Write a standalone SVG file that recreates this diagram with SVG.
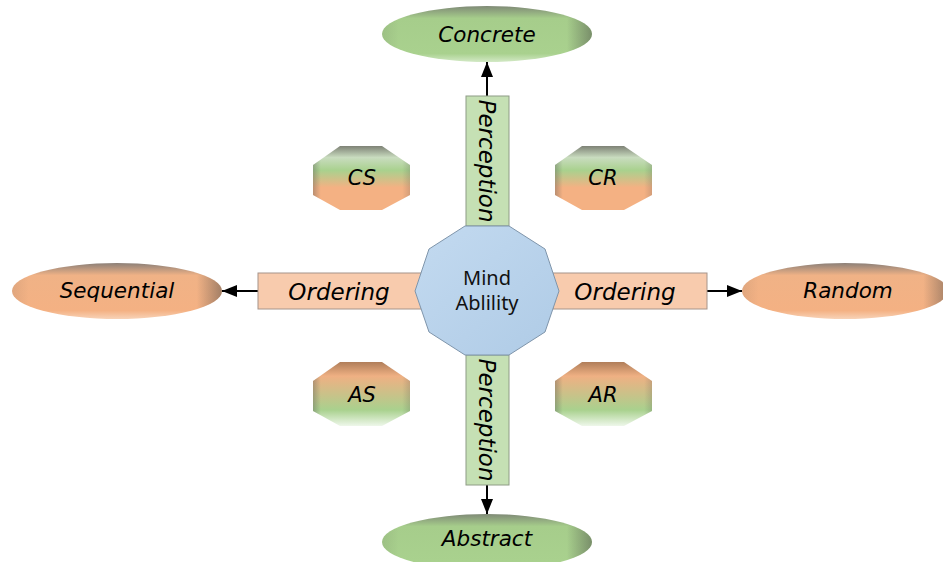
<svg xmlns="http://www.w3.org/2000/svg" width="943" height="562" viewBox="0 0 943 562">
  <style>
    .lbl { font-family: "DejaVu Sans", "Liberation Sans", sans-serif; font-style: italic; fill: #000; text-anchor: middle; }
    .big { font-size: 21.5px; }
    .bar { font-size: 23px; }
    .oct { font-size: 21px; }
    .hub { font-family: "Noto Sans", "Liberation Sans", sans-serif; font-size: 20px; fill: #111; text-anchor: middle; }
    .link { stroke: #000; stroke-width: 2; fill: none; marker-end: url(#head); }
    .pbox { fill: #c5e0b4; stroke: #8e9c86; stroke-width: 1; }
    .obox { fill: #f8cbad; stroke: #a6948a; stroke-width: 1; }
  </style>
  <defs>
    <marker id="head" viewBox="0 0 15 12" refX="15" refY="6" markerWidth="15" markerHeight="12" markerUnits="userSpaceOnUse" orient="auto">
      <path d="M0,0 L15,6 L0,12 z" fill="#000"/>
    </marker>
    <!-- ellipse bodies -->
    <linearGradient id="gGreen" x1="0" y1="0" x2="0" y2="1">
      <stop offset="0" stop-color="#7f8a76"/>
      <stop offset="0.22" stop-color="#a6cd8b"/>
      <stop offset="0.85" stop-color="#a9d18e"/>
      <stop offset="1" stop-color="#d3e9c6"/>
    </linearGradient>
    <linearGradient id="gOrange" x1="0" y1="0" x2="0" y2="1">
      <stop offset="0" stop-color="#8c8078"/>
      <stop offset="0.22" stop-color="#f0b286"/>
      <stop offset="0.85" stop-color="#f4b183"/>
      <stop offset="1" stop-color="#f8d3b8"/>
    </linearGradient>
    <linearGradient id="gEdge" x1="0" y1="0" x2="1" y2="0">
      <stop offset="0" stop-color="#404040" stop-opacity="0.1"/>
      <stop offset="0.08" stop-color="#404040" stop-opacity="0"/>
      <stop offset="0.88" stop-color="#404040" stop-opacity="0"/>
      <stop offset="1" stop-color="#404040" stop-opacity="0.45"/>
    </linearGradient>
    <!-- octagon bodies -->
    <linearGradient id="gTop" x1="0" y1="0" x2="0" y2="1">
      <stop offset="0" stop-color="#7e8276"/>
      <stop offset="0.18" stop-color="#c9dcbf"/>
      <stop offset="0.38" stop-color="#a9d18e"/>
      <stop offset="0.65" stop-color="#f4b183"/>
      <stop offset="1" stop-color="#f4b183"/>
    </linearGradient>
    <linearGradient id="gBot" x1="0" y1="0" x2="0" y2="1">
      <stop offset="0" stop-color="#b07e5a"/>
      <stop offset="0.22" stop-color="#efb083"/>
      <stop offset="0.75" stop-color="#a9d18e"/>
      <stop offset="1" stop-color="#eef7ea"/>
    </linearGradient>
    <linearGradient id="gSide" x1="0" y1="0" x2="1" y2="0">
      <stop offset="0" stop-color="#505050" stop-opacity="0.35"/>
      <stop offset="0.08" stop-color="#505050" stop-opacity="0"/>
      <stop offset="0.92" stop-color="#505050" stop-opacity="0"/>
      <stop offset="1" stop-color="#505050" stop-opacity="0.2"/>
    </linearGradient>
    <linearGradient id="gHub" x1="0" y1="0" x2="1" y2="1">
      <stop offset="0" stop-color="#c3daf0"/>
      <stop offset="1" stop-color="#afcbe6"/>
    </linearGradient>
    <polygon id="octShape" points="27,0 69,0 97,19 97,49 69,64 27,64 0,49 0,19"/>
  </defs>

  <!-- connectors -->
  <g id="connectors">
    <line class="link" x1="487" y1="96" x2="487" y2="62"/>
    <line class="link" x1="487" y1="485" x2="487" y2="514"/>
    <line class="link" x1="258" y1="291" x2="222" y2="291"/>
    <line class="link" x1="707" y1="291" x2="742" y2="291"/>
  </g>

  <!-- axis bars -->
  <g id="bar-perception-top">
    <rect class="pbox" x="466" y="96" width="43" height="130"/>
    <text class="lbl bar" transform="translate(479,161) rotate(90)">Perception</text>
  </g>
  <g id="bar-perception-bottom">
    <rect class="pbox" x="466" y="355" width="43" height="130"/>
    <text class="lbl bar" transform="translate(479,420) rotate(90)">Perception</text>
  </g>
  <g id="bar-ordering-left">
    <rect class="obox" x="258" y="273" width="164" height="36"/>
    <text class="lbl bar" x="339" y="300">Ordering</text>
  </g>
  <g id="bar-ordering-right">
    <rect class="obox" x="553" y="273" width="154" height="36"/>
    <text class="lbl bar" x="625" y="300">Ordering</text>
  </g>

  <!-- central hub -->
  <g id="mind-ability">
    <polygon points="465,226 509,226 545,249 559,291 545,332 509,355 465,355 429,332 415,291 429,249" fill="url(#gHub)" stroke="#7f95ab" stroke-width="1"/>
    <text class="hub" x="487" y="285">Mind</text>
    <text class="hub" x="487" y="310">Ablility</text>
  </g>

  <!-- poles -->
  <g id="concrete">
    <ellipse cx="487" cy="34" rx="105" ry="28" fill="url(#gGreen)"/>
    <ellipse cx="487" cy="34" rx="105" ry="28" fill="url(#gEdge)"/>
    <text class="lbl big" x="487" y="42">Concrete</text>
  </g>
  <g id="abstract">
    <ellipse cx="487" cy="542" rx="105" ry="28" fill="url(#gGreen)"/>
    <ellipse cx="487" cy="542" rx="105" ry="28" fill="url(#gEdge)"/>
    <text class="lbl big" x="487" y="546">Abstract</text>
  </g>
  <g id="sequential">
    <ellipse cx="117" cy="291" rx="105" ry="28" fill="url(#gOrange)"/>
    <ellipse cx="117" cy="291" rx="105" ry="28" fill="url(#gEdge)"/>
    <text class="lbl big" x="117" y="298">Sequential</text>
  </g>
  <g id="random">
    <ellipse cx="845" cy="291" rx="103" ry="28" fill="url(#gOrange)"/>
    <ellipse cx="845" cy="291" rx="103" ry="28" fill="url(#gEdge)"/>
    <text class="lbl big" x="848" y="298">Random</text>
  </g>

  <!-- quadrant styles -->
  <g id="cs" transform="translate(313,146)">
    <use href="#octShape" fill="url(#gTop)"/>
    <use href="#octShape" fill="url(#gSide)"/>
    <text class="lbl oct" x="49" y="39">CS</text>
  </g>
  <g id="cr" transform="translate(555,146)">
    <use href="#octShape" fill="url(#gTop)"/>
    <use href="#octShape" fill="url(#gSide)"/>
    <text class="lbl oct" x="48" y="39">CR</text>
  </g>
  <g id="as" transform="translate(313,362)">
    <use href="#octShape" fill="url(#gBot)"/>
    <use href="#octShape" fill="url(#gSide)"/>
    <text class="lbl oct" x="49" y="40">AS</text>
  </g>
  <g id="ar" transform="translate(555,362)">
    <use href="#octShape" fill="url(#gBot)"/>
    <use href="#octShape" fill="url(#gSide)"/>
    <text class="lbl oct" x="48" y="40">AR</text>
  </g>
</svg>
